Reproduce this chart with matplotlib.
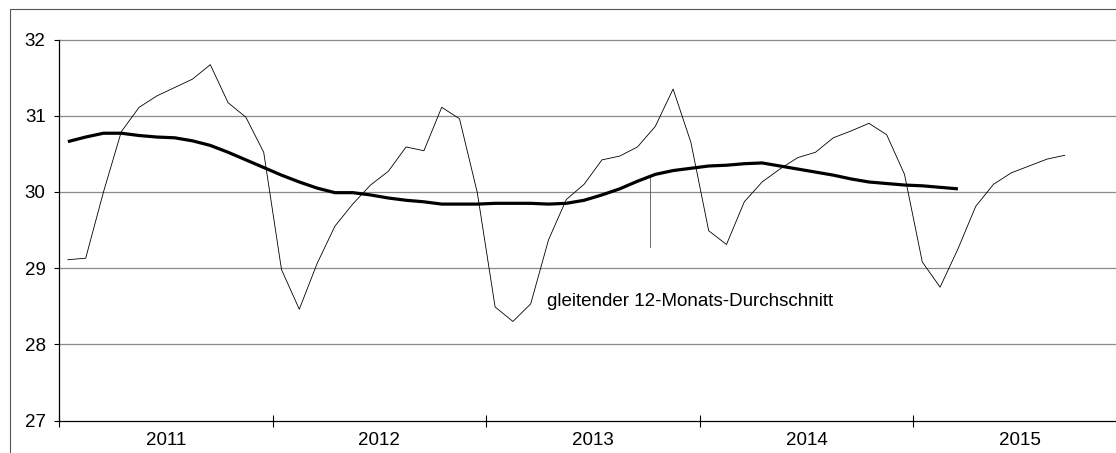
import matplotlib.pyplot as plt
from matplotlib.patches import Rectangle

plt.rcParams['font.family'] = ['Liberation Sans', 'DejaVu Sans']

# Monatswerte Jan 2011 - Sep 2015
monatswerte = [
    29.11, 29.13, 30.00, 30.79, 31.11, 31.26, 31.37, 31.48, 31.67, 31.17, 30.98, 30.52,
    28.98, 28.46, 29.06, 29.55, 29.84, 30.09, 30.27, 30.59, 30.54, 31.11, 30.96, 29.99,
    28.49, 28.30, 28.53, 29.37, 29.90, 30.10, 30.42, 30.47, 30.59, 30.86, 31.35, 30.65,
    29.49, 29.31, 29.87, 30.13, 30.30, 30.45, 30.52, 30.71, 30.80, 30.90, 30.75, 30.23,
    29.08, 28.75, 29.25, 29.81, 30.10, 30.25, 30.34, 30.43, 30.48,
]

# gleitender 12-Monats-Durchschnitt Jan 2011 - Mar 2015
durchschnitt = [
    30.66, 30.72, 30.77, 30.77, 30.74, 30.72, 30.71, 30.67, 30.61, 30.52, 30.42, 30.32,
    30.22, 30.13, 30.05, 29.99, 29.99, 29.96, 29.92, 29.89, 29.87, 29.84, 29.84, 29.84,
    29.85, 29.85, 29.85, 29.84, 29.85, 29.89, 29.96, 30.04, 30.14, 30.23, 30.28, 30.31,
    30.34, 30.35, 30.37, 30.38, 30.34, 30.30, 30.26, 30.22, 30.17, 30.13, 30.11, 30.09,
    30.08, 30.06, 30.04,
]

jahre = ['2011', '2012', '2013', '2014', '2015']
y_ticks = [27, 28, 29, 30, 31, 32]

# Beschriftung und Hinweislinie
label_text = 'gleitender 12-Monats-Durchschnitt'
label_x, label_y = 27.4, 28.56
leader_x, leader_y = 33.2, (29.28, 30.20)

fig = plt.figure(figsize=(11.16, 4.53), dpi=100)
W, H = 1116, 453

# äußerer Rahmen
fig.patches.append(Rectangle((10 / W, -0.1), 1.2, 1.1 - 9 / H, transform=fig.transFigure,
                             fill=False, edgecolor='#555555', linewidth=0.8))

ax = fig.add_axes([59 / W, (H - 420.5) / H, 1 - 59 / W, 381 / H])

x_m = [i + 0.5 for i in range(len(monatswerte))]
x_d = [i + 0.5 for i in range(len(durchschnitt))]

for v in y_ticks[1:]:
    ax.axhline(v, color='#8a8a8a', linewidth=0.9, zorder=1, clip_on=False)

ax.plot(x_m, monatswerte, color='black', linewidth=0.6, zorder=3)
ax.plot(x_d, durchschnitt, color='black', linewidth=2.3, zorder=4,
        solid_joinstyle='round', solid_capstyle='butt')
ax.plot([leader_x, leader_x], leader_y, color='#555555', linewidth=0.6, zorder=2)
ax.text(label_x, label_y, label_text, fontsize=13.5, va='center', ha='left')

ax.set_xlim(0, (W - 59) / 17.8)
ax.set_ylim(27, 32)

ax.spines['top'].set_visible(False)
ax.spines['right'].set_visible(False)
ax.spines['left'].set_linewidth(0.9)
ax.spines['bottom'].set_linewidth(0.9)

ax.set_yticks(y_ticks)
ax.set_yticklabels([str(v) for v in y_ticks])
ax.tick_params(axis='y', direction='out', length=3.6, width=0.8, pad=6, labelsize=13.5)

ax.set_xticks([12 * k for k in range(len(jahre))])
ax.set_xticklabels([])
ax.set_xticks([12 * k + 6 for k in range(len(jahre))], minor=True)
ax.set_xticklabels(jahre, minor=True)
ax.tick_params(axis='x', which='major', direction='inout', length=8, width=0.8)
ax.tick_params(axis='x', which='minor', length=0, pad=8, labelsize=13.5)

fig.savefig('out.png', dpi=100)
